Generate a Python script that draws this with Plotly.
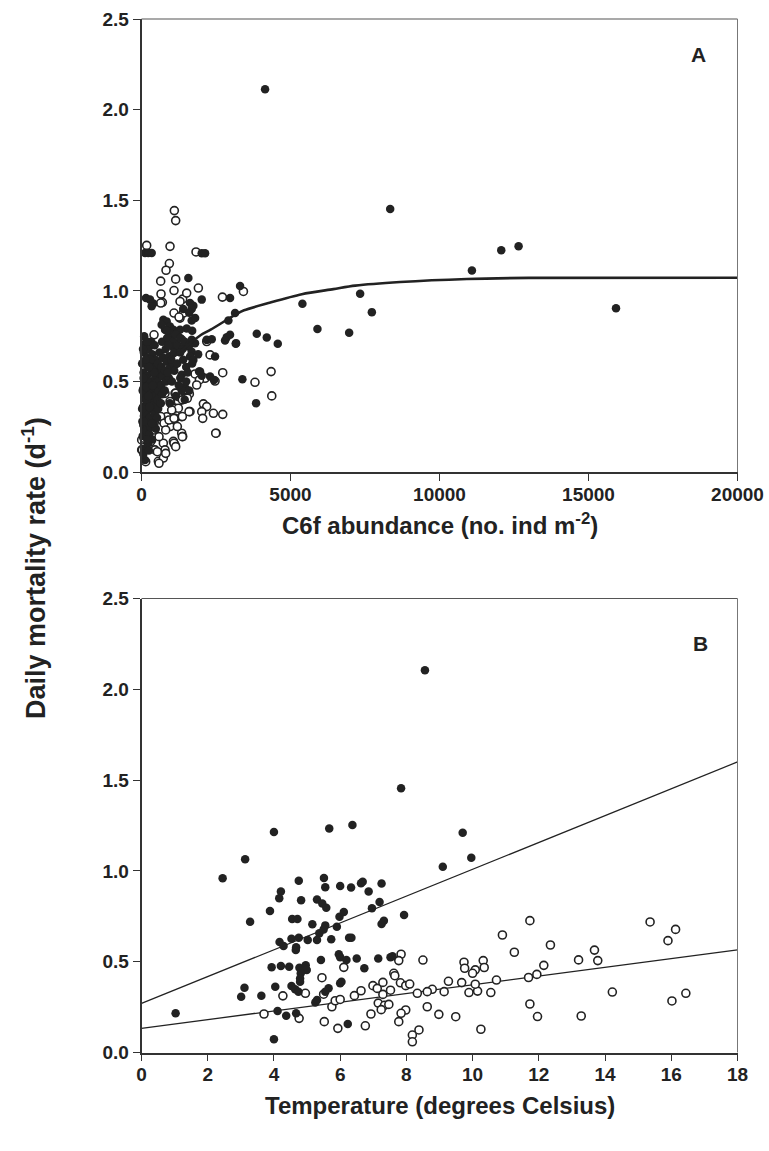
import plotly.graph_objects as go

# ---------------- Panel A: mortality vs C6f abundance ----------------
a_filled_x = [4147, 8345, 12072, 12654, 11088, 15923, 7337, 7730, 5400, 5904, 6968, 3308, 3140,
              3868, 4204, 4573, 3163, 3386, 3845,
              118, 228, 342, 2021, 2133, 1572, 151, 285, 397, 341, 2021, 2972, 1628, 1740, 1684,
              2916, 1684, 1516, 733, 845, 677, 957, 789, 1069, 1181, 1013, 1293, 1684, 1796, 2189,
              2357, 2860, 2972, 2804, 3174, 2468, 1572, 1684, 1628, 1740, 1069, 1181, 1125, 1348,
              1965, 2021, 2301, 118, 1300, 1450, 1600, 1500, 1931, 2435,
              40, 60, 80, 50, 90, 60, 100, 70, 110, 80, 120,
              150, 180, 160, 200, 170, 210, 180, 220, 190, 230,
              260, 300, 280, 320, 290, 330, 300, 340, 310, 360, 330,
              400, 430, 410, 450, 420, 460, 430, 470, 440,
              520, 560, 530, 570, 540, 580, 550, 600,
              650, 690, 660, 700, 670, 720, 690,
              780, 820, 790, 840, 810, 860,
              920, 960, 930, 980,
              1050, 1100, 1080, 1150, 1220, 1300, 1380, 1450,
              120, 220, 350, 60, 480, 30, 250,
              850, 900, 1000, 1100, 1200, 1300, 1400, 1500, 1600, 1700, 1800, 1350, 1450, 1550,
              1250, 1150, 950, 880, 1020, 1400, 1700, 1600, 1900,
              20, 40, 70, 100, 130, 160, 190, 240, 270, 300, 350, 380, 420, 20, 50, 90, 140, 200, 250]
a_filled_y = [2.112, 1.452, 1.224, 1.246, 1.113, 0.905, 0.985, 0.883, 0.929, 0.790, 0.769, 1.027, 0.878,
              0.764, 0.743, 0.708, 0.708, 0.513, 0.381,
              1.209, 1.209, 1.209, 1.208, 1.208, 1.071, 0.961, 0.952, 0.930, 0.915, 0.952, 0.961, 0.933, 0.918, 0.900,
              0.837, 0.837, 0.793, 0.841, 0.832, 0.813, 0.804, 0.786, 0.786, 0.767, 0.758, 0.786, 0.730, 0.712, 0.730,
              0.734, 0.745, 0.758, 0.727, 0.712, 0.638, 0.693, 0.665, 0.638, 0.619, 0.693, 0.665, 0.592, 0.538,
              0.556, 0.532, 0.528, 0.067, 0.520, 0.470, 0.450, 0.500, 0.555, 0.509,
              0.20, 0.26, 0.31, 0.36, 0.41, 0.46, 0.50, 0.55, 0.60, 0.66, 0.71,
              0.23, 0.28, 0.33, 0.38, 0.43, 0.48, 0.53, 0.58, 0.63, 0.68,
              0.21, 0.25, 0.30, 0.35, 0.40, 0.45, 0.50, 0.55, 0.60, 0.65, 0.72,
              0.27, 0.32, 0.37, 0.42, 0.47, 0.52, 0.57, 0.62, 0.70,
              0.30, 0.35, 0.40, 0.45, 0.50, 0.55, 0.60, 0.66,
              0.38, 0.43, 0.48, 0.53, 0.58, 0.63, 0.72,
              0.45, 0.50, 0.56, 0.61, 0.68, 0.74,
              0.52, 0.58, 0.64, 0.70,
              0.60, 0.66, 0.72, 0.76, 0.70, 0.74, 0.68, 0.72,
              0.13, 0.16, 0.18, 0.10, 0.24, 0.28, 0.12,
              0.78, 0.70, 0.62, 0.56, 0.60, 0.66, 0.62, 0.58, 0.70, 0.78, 0.85, 0.45, 0.40, 0.55,
              0.48, 0.42, 0.38, 0.55, 0.50, 0.90, 0.60, 0.88, 0.65,
              0.35, 0.45, 0.52, 0.28, 0.40, 0.47, 0.18, 0.42, 0.36, 0.62, 0.27, 0.48, 0.55, 0.60, 0.68, 0.75, 0.62, 0.72, 0.58]

a_open_x = [1102, 1147, 174, 957, 1830, 935, 823, 644, 1147, 1091, 655, 2715, 3420, 1382, 1516, 1908,
            1293, 1293, 1405, 700, 420, 1013, 1348, 2301, 2189, 1796, 2133, 2726, 2468, 1942, 1852,
            4349, 3808, 4371, 2077, 2189, 2021, 2054, 2413, 2726, 2503,
            1460, 1606, 1405, 1237, 1628, 1348, 1125, 1013, 845,
            1348, 1382, 1069, 1125, 733, 789, 453, 565, 733, 341, 397, 229, 6, 6,
            957, 1125, 1237, 789, 509, 453, 677, 397, 229, 957, 1125,
            867, 1484, 1370, 1538, 1148, 1595, 1370, 1237, 1013, 645, 420, 756, 923, 1091, 1203,
            812, 420, 84, 28, 308, 588, 1091, 1148, 1370, 2491, 812, 532, 588, 140,
            1091, 1259, 645]
a_open_y = [1.443, 1.388, 1.251, 1.246, 1.215, 1.151, 1.114, 1.054, 1.065, 1.002, 0.983, 0.966, 0.997, 0.955, 0.988, 1.016,
            0.942, 0.850, 0.878, 0.937, 0.758, 0.721, 0.730, 0.647, 0.721, 0.542, 0.518, 0.549, 0.503, 0.509, 0.481,
            0.555, 0.496, 0.421, 0.377, 0.362, 0.334, 0.297, 0.325, 0.319, 0.215,
            0.458, 0.432, 0.408, 0.390, 0.334, 0.306, 0.353, 0.288, 0.306,
            0.215, 0.197, 0.170, 0.150, 0.160, 0.123, 0.123, 0.060, 0.078, 0.178, 0.215, 0.152, 0.178, 0.123,
            0.390, 0.435, 0.417, 0.435, 0.398, 0.334, 0.288, 0.261, 0.243, 0.252, 0.297,
            0.666, 0.454, 0.399, 0.408, 0.436, 0.334, 0.307, 0.353, 0.343, 0.307, 0.270, 0.270, 0.288, 0.297, 0.252,
            0.233, 0.233, 0.187, 0.123, 0.169, 0.196, 0.160, 0.141, 0.196, 0.215, 0.104, 0.113, 0.049, 0.058,
            0.878, 0.856, 0.933]

# saturating fit drawn through panel A
a_fit_x = [960, 1430, 1990, 2320, 3140, 3440, 4260, 5380, 6440, 7170, 8680, 10920, 13000, 20000]
a_fit_y = [0.620, 0.684, 0.757, 0.786, 0.868, 0.893, 0.933, 0.982, 1.010, 1.029, 1.049, 1.066, 1.072, 1.073]

a_ticks = [0, 5000, 10000, 15000, 20000]

# ---------------- Panel B: mortality vs temperature ----------------
b_filled_x = [3.13, 2.45, 4.75, 5.51, 5.55, 6.00, 6.33, 6.63, 6.68, 6.86, 7.25, 4.21, 4.16, 4.82, 5.30,
              5.46, 5.58, 3.88, 3.28, 4.55, 4.71, 5.16, 5.55, 5.90, 5.98, 6.11, 6.96, 7.19, 7.93, 7.32,
              7.25, 5.37, 5.50, 5.30, 5.02, 4.75, 4.53, 4.17, 4.29, 4.66, 4.67, 5.73, 6.27, 6.34, 5.42,
              5.96, 6.00, 6.19, 6.50, 6.73, 7.15, 7.52, 7.58, 3.93, 4.21, 4.46, 4.77, 4.96, 4.99, 4.81,
              4.79, 4.79, 4.04, 4.53, 4.64, 4.74, 3.11, 3.01, 3.62, 6.00, 6.04, 5.65, 5.55, 5.30, 5.25,
              1.03, 4.11, 4.37, 4.67, 6.23, 4.00,
              8.56, 7.84, 4.00, 5.67, 6.37, 9.10, 9.70, 9.96]
b_filled_y = [1.064, 0.959, 0.946, 0.961, 0.910, 0.917, 0.908, 0.932, 0.940, 0.886, 0.930, 0.886, 0.849, 0.838, 0.842,
              0.821, 0.797, 0.779, 0.720, 0.735, 0.735, 0.706, 0.700, 0.693, 0.748, 0.774, 0.794, 0.829, 0.757, 0.726,
              0.707, 0.656, 0.678, 0.620, 0.620, 0.632, 0.627, 0.608, 0.586, 0.564, 0.579, 0.623, 0.632, 0.632, 0.509,
              0.541, 0.525, 0.509, 0.518, 0.464, 0.518, 0.525, 0.530, 0.469, 0.476, 0.472, 0.467, 0.481, 0.454, 0.436,
              0.408, 0.390, 0.362, 0.366, 0.348, 0.335, 0.357, 0.307, 0.313, 0.381, 0.390, 0.354, 0.335, 0.289, 0.276,
              0.216, 0.229, 0.203, 0.216, 0.157, 0.073,
              2.105, 1.455, 1.214, 1.234, 1.253, 1.023, 1.210, 1.073]

b_open_x = [7.84, 7.77, 6.11, 5.45, 4.95, 4.27, 3.70, 4.76, 5.52, 5.93, 6.76, 5.75, 5.85, 6.00, 5.50,
            6.43, 6.63, 6.99, 7.12, 7.29, 7.52, 7.29, 7.15, 7.34, 7.47, 7.24, 6.93, 7.62, 7.65, 7.82,
            7.98, 8.10, 7.98, 7.84, 7.77, 8.18, 8.18,
            8.50, 9.74, 9.76, 10.32, 10.35, 10.08, 10.00, 10.90, 11.26, 11.73, 12.35, 12.15, 11.94, 11.69,
            13.20, 13.68, 13.78, 15.36, 16.13, 15.90, 14.22, 16.02, 16.44, 13.28, 11.96, 11.73, 10.72,
            10.55, 10.25, 10.15, 10.08, 9.89, 9.67, 9.27, 9.14, 8.78, 8.63, 8.33, 8.63, 8.98, 9.49, 8.38]
b_open_y = [0.541, 0.506, 0.469, 0.412, 0.326, 0.312, 0.212, 0.188, 0.170, 0.133, 0.147, 0.252, 0.285, 0.292, 0.321,
            0.313, 0.340, 0.368, 0.353, 0.386, 0.343, 0.320, 0.272, 0.260, 0.265, 0.236, 0.212, 0.436, 0.423, 0.384,
            0.368, 0.377, 0.234, 0.216, 0.170, 0.096, 0.059,
            0.509, 0.497, 0.464, 0.506, 0.468, 0.455, 0.436, 0.647, 0.552, 0.726, 0.592, 0.480, 0.430, 0.413,
            0.510, 0.564, 0.506, 0.719, 0.678, 0.616, 0.333, 0.284, 0.326, 0.201, 0.198, 0.267, 0.399,
            0.330, 0.128, 0.338, 0.376, 0.330, 0.385, 0.392, 0.335, 0.348, 0.335, 0.326, 0.252, 0.210, 0.197, 0.124]

# regression lines in panel B (end points)
b_line_x = [0, 18]
b_upper_y = [0.270, 1.600]
b_lower_y = [0.133, 0.565]

INK = "#222222"
FONT = "Liberation Sans, Arial, sans-serif"

fig = go.Figure()

open_marker = dict(symbol="circle", size=8, color="white", line=dict(color=INK, width=1.6))
filled_marker = dict(symbol="circle", size=8.5, color=INK, line=dict(width=0))

fig.add_trace(go.Scatter(x=a_open_x, y=a_open_y, mode="markers", marker=open_marker,
                         xaxis="x", yaxis="y", cliponaxis=False, showlegend=False))
fig.add_trace(go.Scatter(x=a_filled_x, y=a_filled_y, mode="markers", marker=filled_marker,
                         xaxis="x", yaxis="y", cliponaxis=False, showlegend=False))
fig.add_trace(go.Scatter(x=a_fit_x, y=a_fit_y, mode="lines",
                         line=dict(color=INK, width=2.6, shape="spline", smoothing=0.8),
                         xaxis="x", yaxis="y", showlegend=False))

fig.add_trace(go.Scatter(x=b_line_x, y=b_upper_y, mode="lines", line=dict(color=INK, width=1.3),
                         xaxis="x2", yaxis="y2", showlegend=False))
fig.add_trace(go.Scatter(x=b_line_x, y=b_lower_y, mode="lines", line=dict(color=INK, width=1.3),
                         xaxis="x2", yaxis="y2", showlegend=False))
fig.add_trace(go.Scatter(x=b_open_x, y=b_open_y, mode="markers", marker=open_marker,
                         xaxis="x2", yaxis="y2", cliponaxis=False, showlegend=False))
fig.add_trace(go.Scatter(x=b_filled_x, y=b_filled_y, mode="markers", marker=filled_marker,
                         xaxis="x2", yaxis="y2", cliponaxis=False, showlegend=False))

W, H = 769, 1151
x_dom = [141.5 / W, 737.5 / W]
ya_dom = [1 - 472.2 / H, 1 - 19.0 / H]
yb_dom = [1 - 1052.5 / H, 1 - 598.5 / H]

tickfont = dict(family=FONT, size=19, color=INK, weight="bold")
axis_common = dict(showgrid=False, zeroline=False, showline=True, linecolor="#333333", linewidth=1.6,
                   ticks="outside", ticklen=7, tickwidth=1.3, tickcolor="#333333",
                   tickfont=tickfont, automargin=False, mirror=False)

fig.update_layout(
    width=W, height=H,
    margin=dict(l=0, r=0, t=0, b=0),
    paper_bgcolor="white", plot_bgcolor="white",
    xaxis=dict(domain=x_dom, anchor="y", range=[0, 20000], tickvals=a_ticks,
               ticktext=[str(t) for t in a_ticks], ticklabelstandoff=-3, **axis_common),
    yaxis=dict(domain=ya_dom, anchor="x", range=[0, 2.5], dtick=0.5, tick0=0, tickformat=".1f",
               **axis_common),
    xaxis2=dict(domain=x_dom, anchor="y2", range=[0, 18], dtick=2, tick0=0, ticklabelstandoff=-3,
                **axis_common),
    yaxis2=dict(domain=yb_dom, anchor="x2", range=[0, 2.5], dtick=0.5, tick0=0, tickformat=".1f",
                **axis_common),
)

# light top/right frame lines around each panel
for yref in ("y domain", "y2 domain"):
    xref = "x domain" if yref == "y domain" else "x2 domain"
    fig.add_shape(type="line", xref=xref, yref=yref, x0=0, x1=1, y0=1, y1=1,
                  line=dict(color="#555555", width=1.2))
    fig.add_shape(type="line", xref=xref, yref=yref, x0=1, x1=1, y0=0, y1=1,
                  line=dict(color="#777777", width=1.0))

fig.add_annotation(text="C6f abundance (no. ind m<sup>-2</sup>)", xref="paper", yref="paper",
                   x=(x_dom[0] + x_dom[1]) / 2, y=1 - 524 / H, showarrow=False,
                   font=dict(family=FONT, size=24, color=INK, weight="bold"),
                   xanchor="center", yanchor="middle")
fig.add_annotation(text="Temperature (degrees Celsius)", xref="paper", yref="paper",
                   x=(x_dom[0] + x_dom[1]) / 2, y=1 - 1105 / H, showarrow=False,
                   font=dict(family=FONT, size=24, color=INK, weight="bold"),
                   xanchor="center", yanchor="middle")
fig.add_annotation(text="Daily mortality rate (d<sup>-1</sup>)", xref="paper", yref="paper",
                   x=34 / W, y=1 - 568 / H, showarrow=False,
                   font=dict(family=FONT, size=27, color=INK, weight="bold"), textangle=-90,
                   xanchor="center", yanchor="middle")

label_font = dict(family=FONT, size=21, color=INK, weight="bold")
fig.add_annotation(text="A", xref="paper", yref="paper", x=698 / W, y=1 - 55 / H, showarrow=False,
                   font=label_font, xanchor="center", yanchor="middle")
fig.add_annotation(text="B", xref="paper", yref="paper", x=700 / W, y=1 - 643 / H, showarrow=False,
                   font=label_font, xanchor="center", yanchor="middle")

fig.write_html("out.html")
